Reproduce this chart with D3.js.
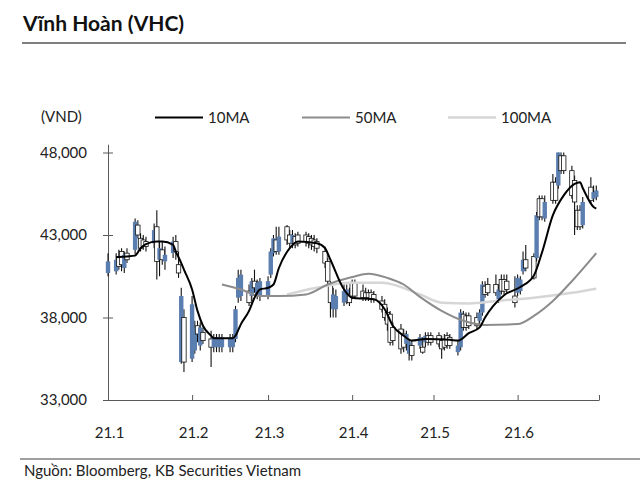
<!DOCTYPE html>
<html><head><meta charset="utf-8">
<script src="https://cdn.jsdelivr.net/npm/d3@7"></script>
<style>body{margin:0;background:#fff;} svg{display:block;font-family:Lato,"Noto Sans",sans-serif;}</style>
</head><body>
<script>
// ---- data ----
const dates = [
"01-01","01-04","01-05","01-06","01-07","01-08","01-11","01-12","01-13","01-14","01-15","01-18","01-19","01-20","01-21","01-22","01-25","01-26","01-27","01-28","01-29",
"02-01","02-02","02-03","02-04","02-05","02-08","02-09","02-10","02-11","02-12","02-15","02-16","02-17","02-18","02-19","02-22","02-23","02-24","02-25","02-26",
"03-01","03-02","03-03","03-04","03-05","03-08","03-09","03-10","03-11","03-12","03-15","03-16","03-17","03-18","03-19","03-22","03-23","03-24","03-25","03-26","03-29","03-30","03-31",
"04-01","04-02","04-05","04-06","04-07","04-08","04-09","04-12","04-13","04-14","04-15","04-16","04-19","04-20","04-21","04-22","04-23","04-26","04-27","04-28","04-29","04-30",
"05-03","05-04","05-05","05-06","05-07","05-10","05-11","05-12","05-13","05-14","05-17","05-18","05-19","05-20","05-21","05-24","05-25","05-26","05-27","05-28","05-31",
"06-01","06-02","06-03","06-04","06-07","06-08","06-09","06-10","06-11","06-14","06-15","06-16","06-17","06-18","06-21","06-22","06-23","06-24","06-25","06-28","06-29","06-30"];
const open = [
41400,41500,41100,41200,41800,41500,43800,43000,42200,42300,42300,43300,41400,42200,41500,41800,42600,42000,40700,39300,35300,
38800,37400,37000,37400,36600,36200,36800,36800,36800,36800,36800,36800,38500,40400,40600,38900,40200,39800,40100,40200,
40200,42000,42800,42000,42900,42700,42500,43000,42400,42500,42600,42500,42400,42300,42200,41300,40200,38900,39400,39300,39600,39700,38900,
39300,39300,39200,39200,39200,39100,39100,38500,38000,37600,36500,36600,36100,36200,37000,36500,35700,36800,35900,36900,36500,36500,
36400,36100,36200,36300,36300,36300,38300,37400,37400,37500,37500,38300,40000,39400,39500,39500,39700,39600,39600,39700,38900,
40400,40300,41500,41000,40400,44200,44100,44100,45000,45100,45100,48000,46900,46900,45400,45000,43500,43500,45000,45100,45600,45700];
const high = [
41900,41900,42100,42200,42000,42200,44000,43900,43100,43000,42900,43700,44500,42600,42600,42300,42900,43000,42000,39800,38500,
39300,37800,37800,37700,37400,37200,37000,37000,37000,37000,37000,37000,38700,40900,40900,40000,40400,40900,40300,40400,
40500,42200,43000,43500,43500,43600,43300,43300,43100,43200,43200,43100,43000,43000,42800,42300,41600,40200,39800,39700,40000,40000,39800,
40300,40300,40000,39800,39700,39700,39600,39300,39100,38600,38400,37700,37600,37300,37200,36700,36600,37000,36800,37100,37100,37100,
37100,36900,37000,37100,37000,36600,38500,38400,38300,38300,38300,38500,40200,40200,40400,40600,40000,40600,40600,40600,40500,
40600,40500,42000,42400,41900,44400,45400,45400,45400,46700,46500,48000,48000,48000,47200,46600,44800,44800,45300,46500,46000,46000];
const low = [
40500,40600,40900,40800,40700,41300,41800,42800,42000,42100,42000,42200,40300,40500,41200,40900,41600,41500,40400,35200,34700,
35300,35800,36500,36000,36400,35000,35900,35900,35900,35900,35900,35900,36500,38900,39000,38700,39000,39500,39100,39000,
39100,40400,41700,41800,41800,42400,42200,42200,42200,42300,42300,42200,42100,42000,41900,41000,40000,38000,38000,38000,38700,38800,38700,
39100,39100,39000,39000,39000,38900,38900,38300,37800,37200,36300,36300,35800,35900,36000,35400,35400,36100,35800,36200,36300,36300,
36200,35500,36000,36100,36100,35700,36000,37200,37200,37300,37300,37600,38100,39200,39300,39300,38900,39400,39400,39500,38600,
39300,39400,40600,40800,40300,41400,43900,43900,43800,44900,44900,45800,46700,46700,45200,43000,43300,43300,43400,44900,45000,45100];
const close = [
40700,40800,41700,42000,41000,41900,42100,43600,42800,42700,42600,42500,43500,41500,42100,41400,41900,42600,41200,35300,38000,
35500,36000,37500,36300,37100,36700,36200,36200,36200,36200,36200,36200,36700,39200,39300,39600,39300,40200,39400,39300,
39300,40600,41900,42700,42000,43500,43000,42500,42900,43000,43000,42900,42800,42700,42600,42000,41400,40000,38500,38500,38900,39000,39400,
40100,40100,39600,39500,39500,39500,39400,39000,38800,38300,38200,37400,37300,37000,36400,35800,36300,36300,36200,36500,36900,36900,
36900,36600,36700,36900,36800,35900,36200,38200,38100,38100,38000,37800,38300,39900,40000,40000,39100,40300,40300,40200,39300,
39500,39600,40800,41500,41700,41600,45200,45200,44000,46200,46200,46000,47800,47800,46900,46300,44500,44500,43600,45900,45200,45300];
const ma10 = [["01-04",41650],["01-08",41700],["01-11",41750],["01-13",42200],["01-15",42450],["01-19",42600],["01-21",42600],["01-25",42400],["01-26",42000],["01-28",41300],["01-29",40900],["02-01",39700],["02-03",38400],["02-05",37500],["02-08",36900],["02-09",36750],["02-16",36750],["02-17",36900],["02-19",37600],["02-22",38400],["02-24",39200],["02-26",39700],["03-01",39800],["03-03",40000],["03-05",41000],["03-09",42200],["03-12",42600],["03-19",42500],["03-22",42200],["03-24",41500],["03-29",39700],["04-01",39200],["04-09",39100],["04-13",38500],["04-16",37500],["04-20",36900],["04-23",36600],["04-28",36700],["05-07",36650],["05-10",36600],["05-14",37050],["05-18",37400],["05-20",38000],["05-27",39350],["06-02",39850],["06-07",40550],["06-10",41950],["06-14",44200],["06-18",45400],["06-22",46100],["06-24",46200],["06-25",45850],["06-29",44700],["06-30",44600]];
const ma50 = [["02-12",40000],["02-19",39700],["02-26",39300],["03-05",39300],["03-15",39400],["03-23",40000],["04-01",40450],["04-07",40650],["04-14",40400],["04-20",40000],["04-26",39250],["05-04",38400],["05-12",37800],["05-20",37550],["06-01",37600],["06-07",38100],["06-14",39000],["06-21",40200],["06-30",41900]];
const ma100 = [["03-08",39400],["03-19",39800],["03-31",40100],["04-12",40100],["04-26",39400],["05-04",38900],["05-14",38850],["05-24",39000],["06-07",39200],["06-21",39500],["06-30",39750]];
const yTicks = [33000,38000,43000,48000];
const xTickLabels = ["21.1","21.2","21.3","21.4","21.5","21.6",""];
const monthStarts = ["01-01","02-01","03-01","04-01","05-01","06-01","07-01"];
const legendNames = ["10MA","50MA","100MA"];
const legendColors = ["#000000","#8c8c8c","#d6d6d6"];

// ---- chart ----
const parse = d3.timeParse("%Y-%m-%d");
const pd = s => parse("2021-"+s);
const W=640,H=488;
const svg = d3.select("body").append("svg").attr("width",W).attr("height",H);
const x = d3.scaleTime().domain([pd("01-01"),pd("07-01")]).range([108,599]);
const y = d3.scaleLinear().domain([33000,48500]).range([400,144.25]);

// title
svg.append("text").attr("x",23).attr("y",31).attr("font-size",21).attr("font-weight",700).attr("fill","#111").text("Vĩnh Hoàn (VHC)");
svg.append("line").attr("x1",22).attr("x2",626).attr("y1",43).attr("y2",43).attr("stroke","#7f7f7f").attr("stroke-width",2);
// unit
svg.append("text").attr("x",41).attr("y",122).attr("font-size",15).attr("fill","#222").text("(VND)");
// legend
const lgX=[155,302,448];
legendNames.forEach((n,i)=>{
  svg.append("line").attr("x1",lgX[i]).attr("x2",lgX[i]+48).attr("y1",117.5).attr("y2",117.5).attr("stroke",legendColors[i]).attr("stroke-width",i===2?2.5:2);
  svg.append("text").attr("x",lgX[i]+53).attr("y",123).attr("font-size",15).attr("fill","#222").text(n);
});

// axes
const gy = svg.append("g").attr("transform","translate(108,0)")
  .call(d3.axisLeft(y).tickValues(yTicks).tickSizeInner(5).tickSizeOuter(0).tickPadding(16).tickFormat(d3.format(",")));
gy.selectAll(".tick line").attr("x1",5).attr("stroke","#595959");
gy.select(".domain").attr("stroke","#595959");
gy.selectAll("text").attr("font-size",15).attr("fill","#222").attr("font-family","Lato");

const gx = svg.append("g").attr("transform","translate(0,400)")
  .call(d3.axisBottom(x).tickValues(monthStarts.map(pd)).tickSizeInner(-5).tickSizeOuter(0).tickPadding(27)
  .tickFormat((d,i)=>xTickLabels[i]));
gx.selectAll(".tick line").attr("stroke","#595959");
gx.select(".domain").attr("stroke","#595959");
gx.selectAll("text").attr("font-size",15).attr("fill","#222").attr("font-family","Lato").attr("dx","1");

// candles
const data = dates.map((d,i)=>({d:pd(d),o:open[i],h:high[i],l:low[i],c:close[i]}));
const plot = svg.append("g");
plot.selectAll("line.hl").data(data).join("line").attr("class","hl")
  .attr("x1",d=>x(d.d)).attr("x2",d=>x(d.d)).attr("y1",d=>y(d.h)).attr("y2",d=>y(d.l))
  .attr("stroke","#111").attr("stroke-width",1.1);
const bw=4.4;
plot.selectAll("rect.body").data(data).join("rect").attr("class","body")
  .attr("x",d=>x(d.d)-bw/2).attr("width",bw)
  .attr("y",d=>y(Math.max(d.o,d.c))).attr("height",d=>Math.max(1,Math.abs(y(d.o)-y(d.c))))
  .attr("fill",d=>d.c<d.o?"#5b7eb0":"#ffffff")
  .attr("stroke",d=>d.c<d.o?"none":"#111").attr("stroke-width",0.8);

// moving averages
const line = d3.line().x(p=>x(pd(p[0]))).y(p=>y(p[1])).curve(d3.curveMonotoneX);
svg.append("path").attr("d",line(ma100)).attr("fill","none").attr("stroke",legendColors[2]).attr("stroke-width",2.5);
svg.append("path").attr("d",line(ma50)).attr("fill","none").attr("stroke",legendColors[1]).attr("stroke-width",2);
svg.append("path").attr("d",line(ma10)).attr("fill","none").attr("stroke",legendColors[0]).attr("stroke-width",2);

// footer
svg.append("line").attr("x1",20).attr("x2",640).attr("y1",459).attr("y2",459).attr("stroke","#7f7f7f").attr("stroke-width",1.5);
svg.append("text").attr("x",24).attr("y",476).attr("font-size",15).attr("fill","#222").text("Nguồn: Bloomberg, KB Securities Vietnam");
</script>
</body></html>
